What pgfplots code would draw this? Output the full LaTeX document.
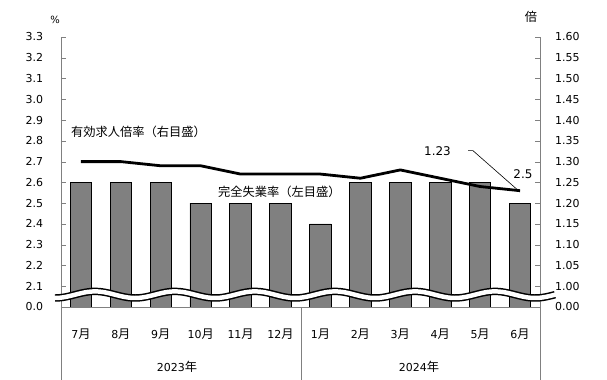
\documentclass[border=0pt]{standalone}
\usepackage{fontspec}
\setmainfont{DejaVu Sans}
\newfontfamily\jp{Noto Sans CJK JP}
\usepackage{pgfplots}
\pgfplotsset{compat=1.18}
\definecolor{axgray}{RGB}{128,128,128}
\definecolor{barfill}{RGB}{128,128,128}
\newcommand{\J}[1]{{\jp\fontsize{12.3}{14}\selectfont #1}}
\begin{document}
\begin{tikzpicture}
\useasboundingbox (-61bp,-73bp) rectangle (546bp,307bp);
\begin{axis}[
  at={(0,0)}, anchor=south west,
  scale only axis, width=479bp, height=270bp,
  xmin=-0.5, xmax=11.5, ymin=2.0, ymax=3.3,
  axis y line*=left, axis x line*=bottom,
  axis line style={axgray,-},
  tick align=inside, major tick length=5bp,
  ytick={2.0,2.1,2.2,2.3,2.4,2.5,2.6,2.7,2.8,2.9,3.0,3.1,3.2,3.3},
  yticklabels={0.0,2.1,2.2,2.3,2.4,2.5,2.6,2.7,2.8,2.9,3.0,3.1,3.2,3.3},
  ytick style={axgray},
  xtick={0,1,2,3,4,5,6,7,8,9,10,11},
  xticklabels={7\J{月},8\J{月},9\J{月},10\J{月},11\J{月},12\J{月},1\J{月},2\J{月},3\J{月},4\J{月},5\J{月},6\J{月}},
  xtick style={draw=none},
  xticklabel style={anchor=center, yshift=-22bp, font=\fontsize{11}{12}\selectfont},
  yticklabel style={anchor=east, xshift=-14.5bp, font=\fontsize{11}{12}\selectfont},
  ybar, bar width=21.5bp,
]
\addplot[fill=barfill, draw=black, line width=0.8bp] coordinates {
 (0,2.6) (1,2.6) (2,2.6) (3,2.5) (4,2.5) (5,2.5) (6,2.4) (7,2.6) (8,2.6) (9,2.6) (10,2.6) (11,2.5)};
\end{axis}
\begin{axis}[
  at={(0,0)}, anchor=south west,
  scale only axis, width=479bp, height=270bp,
  xmin=-0.5, xmax=11.5, ymin=0.95, ymax=1.60,
  axis y line*=right, axis x line=none,
  axis line style={axgray,-},
  tick align=inside, major tick length=5bp,
  ytick={0.95,1.00,1.05,1.10,1.15,1.20,1.25,1.30,1.35,1.40,1.45,1.50,1.55,1.60},
  yticklabels={0.00,1.00,1.05,1.10,1.15,1.20,1.25,1.30,1.35,1.40,1.45,1.50,1.55,1.60},
  ytick style={axgray},
  yticklabel style={anchor=west, xshift=11.7bp, font=\fontsize{11}{12}\selectfont},
  clip=false,
]
\addplot[black, line width=2.8bp, mark=none, line join=round] coordinates {
 (0,1.30) (1,1.30) (2,1.29) (3,1.29) (4,1.27) (5,1.27) (6,1.27) (7,1.26) (8,1.28) (9,1.26) (10,1.24) (11,1.23)};
\end{axis}
% lines below the axis
\draw[axgray, line width=0.8bp] (0,0) -- (0,-73bp);
\draw[axgray, line width=0.8bp] (240bp,0) -- (240bp,-73bp);
\draw[axgray, line width=0.8bp] (479bp,0) -- (479bp,-73bp);
% axis break
\begin{scope}[x=1bp,y=1bp]
\draw[black, line width=7.5] plot[domain=-6:494, samples=150, smooth] (\x,{12.3+3.3*sin(4.5*\x-63)});
\draw[white, line width=4.5] plot[domain=-7:495, samples=150, smooth] (\x,{12.3+3.3*sin(4.5*\x-63)});
% annotations
\draw[black, line width=0.6] (407,156.3) -- (412,156.3) -- (459,115);
\node[font=\fontsize{12}{14}\selectfont] at (376.5,156) {1.23};
\node[font=\fontsize{12}{14}\selectfont] at (462,132.7) {2.5};
\node[anchor=west, inner sep=0] at (10,175) {\J{有効求人倍率（右目盛）}};
\node[anchor=west, inner sep=0] at (157,115.3) {\J{完全失業率（左目盛）}};
\node[font=\fontsize{10}{11}\selectfont] at (-6,287) {\%};
\node at (470,290) {\J{倍}};
\node[font=\fontsize{11}{12}\selectfont] at (116,-60) {2023\J{年}};
\node[font=\fontsize{11}{12}\selectfont] at (358,-60) {2024\J{年}};
\end{scope}
\end{tikzpicture}
\end{document}
